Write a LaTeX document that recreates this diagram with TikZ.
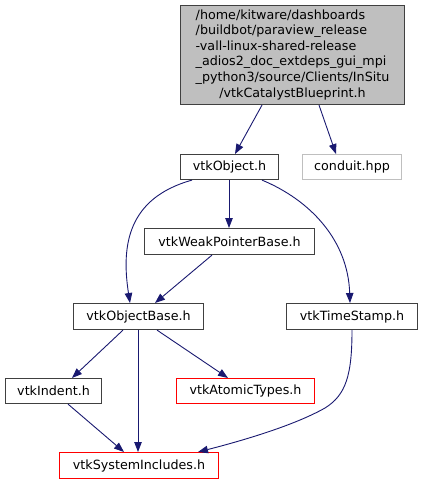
\documentclass[tikz,border=0pt]{standalone}
\usepackage{fontspec}
\setmainfont{DejaVu Sans}
\usetikzlibrary{arrows.meta}
\definecolor{edgec}{HTML}{191970}
\definecolor{grayfill}{HTML}{BFBFBF}
\tikzset{
  box/.style={draw=black!75, line width=1.1pt, fill=white, inner sep=0pt, font=\fontsize{12.7}{14}\selectfont, anchor=north west},
  graybox/.style={box, draw=grayfill},
  redbox/.style={box, draw=red},
  edge/.style={draw=edgec, line width=0.9pt, -{Triangle[length=10pt,width=7.5pt]}}
}
\begin{document}
\begin{tikzpicture}[x=1pt,y=-1pt]
\useasboundingbox (0,0) rectangle (423,484);
\node[box, fill=grayfill, minimum width=224pt, minimum height=99pt] (top) at (180,5)
  {\fontsize{12.7}{15.6}\selectfont\begin{tabular}{@{}l@{}}/home/kitware/dashboards\\/buildbot/paraview\_release\\-vall-linux-shared-release\\\_adios2\_doc\_extdeps\_gui\_mpi\\\_python3/source/Clients/InSitu\\\multicolumn{1}{@{}c@{}}{/vtkCatalystBlueprint.h}\end{tabular}};
\node[box, minimum width=98pt, minimum height=25pt] (obj) at (180,154) {vtkObject.h};
\node[graybox, minimum width=99pt, minimum height=25pt] (cond) at (302,154) {conduit.hpp};
\node[box, minimum width=170pt, minimum height=26pt] (weak) at (144,228) {vtkWeakPointerBase.h};
\node[box, minimum width=130pt, minimum height=26pt] (objb) at (73,303) {vtkObjectBase.h};
\node[box, minimum width=131pt, minimum height=26pt] (ts) at (286,303) {vtkTimeStamp.h};
\node[box, minimum width=96pt, minimum height=25pt] (ind) at (5,378) {vtkIndent.h};
\node[redbox, minimum width=138pt, minimum height=25pt] (atom) at (176,378) {vtkAtomicTypes.h};
\node[redbox, minimum width=159pt, minimum height=26pt] (sys) at (59,452) {vtkSystemIncludes.h};

\draw[edge] (top.south -| 262,0) -- (obj.north -| 235,0);
\draw[edge] (top.south -| 319,0) -- (cond.north -| 336,0);
\draw[edge] (obj.south -| 229,0) -- (weak.north -| 229,0);
\draw[edge] (obj.south -| 192,0) .. controls (128,198) and (121,245) .. (objb.north -| 130,0);
\draw[edge] (weak.south -| 212,0) -- (objb.north -| 155,0);
\draw[edge] (obj.south -| 262,0) .. controls (310,200) and (348,240) .. (ts.north -| 350,0);
\draw[edge] (objb.south -| 123,0) -- (ind.north -| 72,0);
\draw[edge] (objb.south -| 138,0) -- (sys.north -| 138,0);
\draw[edge] (objb.south -| 157,0) -- (atom.north -| 228,0);
\draw[edge] (ind.south -| 68,0) -- (sys.north -| 124,0);
\draw[edge] (ts.south -| 352,0) .. controls (352,375) and (346,395) .. (325,408) .. controls (295,425) and (245,440) .. (sys.north -| 198,0);
\end{tikzpicture}
\end{document}
